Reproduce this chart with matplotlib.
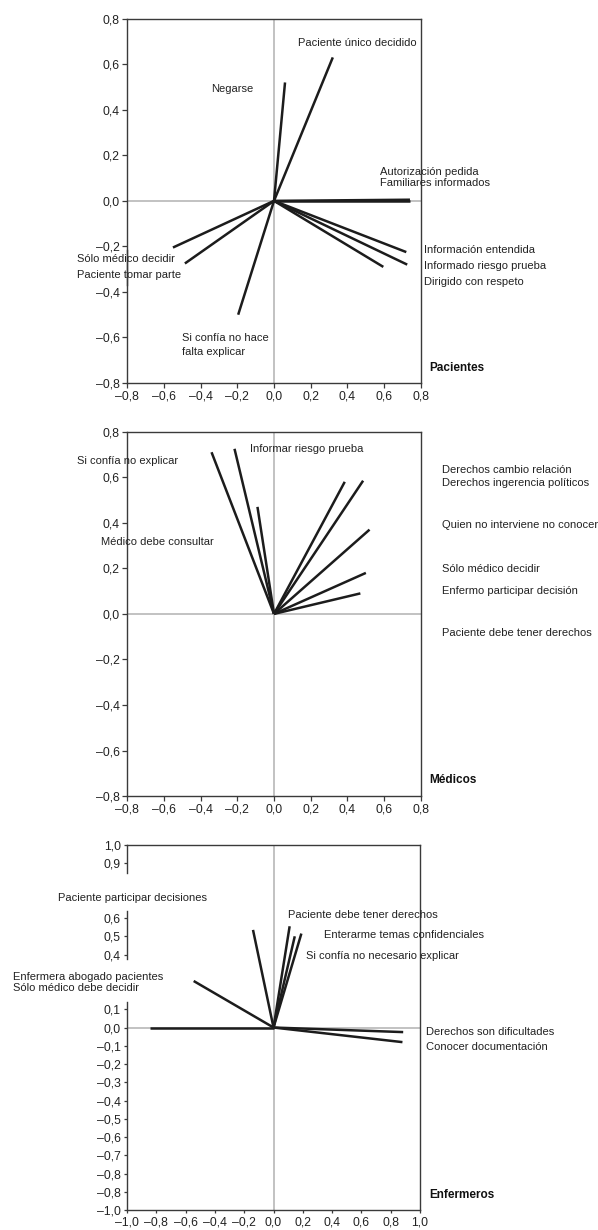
import matplotlib
matplotlib.use("Agg")
import matplotlib.pyplot as plt

plt.rcParams.update({
    "font.family": ["Liberation Sans", "DejaVu Sans"],
    "font.size": 8,
    "axes.edgecolor": "#3a3a3a",
    "axes.linewidth": 1.0,
    "xtick.color": "#3a3a3a",
    "ytick.color": "#3a3a3a",
    "xtick.labelcolor": "#222222",
    "ytick.labelcolor": "#222222",
})

INK = "#1c1c1c"
GREY = "#bdbdbd"

# ---- data: vector end points (start at origin) ----
pac_x = [0.06, 0.32, 0.74, 0.74, 0.72, 0.725, 0.595, -0.55, -0.485, -0.195]
pac_y = [0.52, 0.63, 0.005, 0.0, -0.225, -0.28, -0.29, -0.205, -0.275, -0.50]

med_x = [-0.34, -0.215, -0.09, 0.385, 0.485, 0.52, 0.50, 0.47]
med_y = [0.71, 0.725, 0.47, 0.58, 0.585, 0.37, 0.18, 0.09]

enf_x = [-0.845, -0.545, -0.14, 0.11, 0.145, 0.19, 0.885, 0.88]
enf_y = [0.0, 0.255, 0.535, 0.555, 0.50, 0.515, -0.025, -0.08]

# ---- labels (text, x, y in data units of each panel) ----
pac_labels = [
    ("Paciente único decidido", 0.132, 0.692),
    ("Negarse", -0.343, 0.491),
    ("Autorización pedida", 0.577, 0.128),
    ("Familiares informados", 0.577, 0.077),
    ("Información entendida", 0.818, -0.216),
    ("Informado riesgo prueba", 0.818, -0.286),
    ("Dirigido con respeto", 0.818, -0.355),
    ("Sólo médico decidir", -1.074, -0.257),
    ("Paciente tomar parte", -1.074, -0.325),
    ("Si confía no hace", -0.499, -0.601),
    ("falta explicar", -0.499, -0.663),
]
med_labels = [
    ("Informar riesgo prueba", -0.131, 0.726),
    ("Si confía no explicar", -1.074, 0.670),
    ("Médico debe consultar", -0.943, 0.316),
    ("Derechos cambio relación", 0.913, 0.631),
    ("Derechos ingerencia políticos", 0.913, 0.575),
    ("Quien no interviene no conocer", 0.913, 0.389),
    ("Sólo médico decidir", 0.913, 0.196),
    ("Enfermo participar decisión", 0.913, 0.099),
    ("Paciente debe tener derechos", 0.913, -0.082),
]
enf_labels = [
    ("Paciente participar decisiones", -1.473, 0.709),
    ("Paciente debe tener derechos", 0.101, 0.618),
    ("Enterarme temas confidenciales", 0.347, 0.508),
    ("Si confía no necesario explicar", 0.222, 0.393),
    ("Enfermera abogado pacientes", -1.776, 0.279),
    ("Sólo médico debe decidir", -1.776, 0.216),
    ("Derechos son dificultades", 1.041, -0.024),
    ("Conocer documentación", 1.041, -0.104),
]

ticks_08 = [-0.8, -0.6, -0.4, -0.2, 0.0, 0.2, 0.4, 0.6, 0.8]
ticklab_08 = ["–0,8", "–0,6", "–0,4", "–0,2", "0,0", "0,2", "0,4", "0,6", "0,8"]
enf_xticks = [-1.0, -0.8, -0.6, -0.4, -0.2, 0.0, 0.2, 0.4, 0.6, 0.8, 1.0]
enf_xticklab = ["–1,0", "–0,8", "–0,6", "–0,4", "–0,2", "0,0", "0,2", "0,4",
                "0,6", "0,8", "1,0"]
enf_yticks = [1.0, 0.9, 0.6, 0.5, 0.4, 0.1, 0.0, -0.1, -0.2, -0.3, -0.4,
              -0.5, -0.6, -0.7, -0.8, -0.9, -1.0]
enf_yticklab = ["1,0", "0,9", "0,6", "0,5", "0,4", "0,1", "0,0", "–0,1",
                "–0,2", "–0,3", "–0,4", "–0,5", "–0,6", "–0,7", "–0,8",
                "–0,8", "–1,0"]


def panel(ax, xs, ys, labels, title, title_xy, lim, xticks, xlab, yticks, ylab,
          spine_parts, ticklen):
    ax.set_xlim(-lim, lim)
    ax.set_ylim(-lim, lim)
    ax.axhline(0, color=GREY, lw=1.3, zorder=1)
    ax.axvline(0, color=GREY, lw=1.3, zorder=1)
    for x, y in zip(xs, ys):
        ax.plot([0, x], [0, y], color=INK, lw=1.8, solid_capstyle="butt", zorder=3)
    for txt, tx, ty in labels:
        ax.text(tx, ty, txt, ha="left", va="center", fontsize=8, color="#222222",
                clip_on=False, zorder=5)
    ax.text(title_xy[0], title_xy[1], title, ha="left", va="center",
            fontsize=8.5, fontweight="bold", color="#111111", clip_on=False)
    ax.set_xticks(xticks)
    ax.set_xticklabels(xlab)
    ax.set_yticks(yticks)
    ax.set_yticklabels(ylab)
    ax.tick_params(direction="out", length=ticklen, width=0.9, pad=2,
                   labelsize=8.8)
    # left spine drawn in pieces (gaps behind the labels)
    ax.spines["left"].set_visible(False)
    for y0, y1 in spine_parts:
        ax.plot([0, 0], [y0, y1], transform=ax.get_yaxis_transform(),
                color="#3a3a3a", lw=1.0, clip_on=False, zorder=4)


fig = plt.figure(figsize=(5.98, 12.3), dpi=100, facecolor="white")

ax1 = fig.add_axes([0.2124, 0.6886, 0.4916, 0.2962])
panel(ax1, pac_x, pac_y, pac_labels, "Pacientes", (0.845, -0.733), 0.8,
      ticks_08, ticklab_08, ticks_08, ticklab_08,
      [(-0.8, -0.215), (-0.37, 0.8)], 3.5)

ax2 = fig.add_axes([0.2124, 0.3528, 0.4916, 0.2962])
panel(ax2, med_x, med_y, med_labels, "Médicos", (0.845, -0.731), 0.8,
      ticks_08, ticklab_08, ticks_08, ticklab_08,
      [(-0.8, 0.8)], 3.5)

ax3 = fig.add_axes([0.2124, 0.01626, 0.49, 0.2967])
panel(ax3, enf_x, enf_y, enf_labels, "Enfermeros", (1.063, -0.917), 1.0,
      enf_xticks, enf_xticklab, enf_yticks, enf_yticklab,
      [(-1.0, 0.142), (0.375, 0.636), (0.846, 1.0)], 2.5)

fig.savefig("out.png", dpi=100, facecolor="white")
